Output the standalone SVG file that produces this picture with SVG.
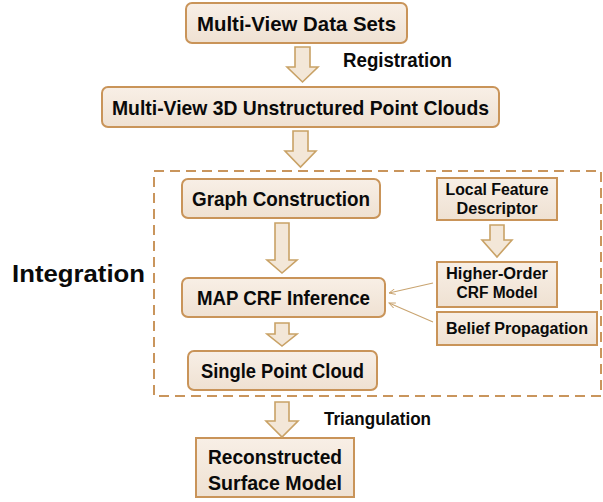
<svg xmlns="http://www.w3.org/2000/svg" width="603" height="502" viewBox="0 0 603 502">
<defs>
<linearGradient id="bg" x1="0" y1="0" x2="0" y2="1">
<stop offset="0" stop-color="#f8efe6"/>
<stop offset="1" stop-color="#efe1d2"/>
</linearGradient>
<marker id="ah" viewBox="0 0 10 10" refX="9" refY="5" markerWidth="7" markerHeight="7" orient="auto" markerUnits="userSpaceOnUse">
<path d="M0,1 L9,5 L0,9" fill="none" stroke="#c9a470" stroke-width="1.3"/>
</marker>
</defs>
<style>
.box{fill:url(#bg);stroke:#c99459;stroke-width:2}
.blk{fill:#f3e7d8;stroke:#c9a266;stroke-width:1.6;stroke-linejoin:miter}
.t{font-family:"Liberation Sans",Arial,sans-serif;font-weight:bold;fill:#0a0a0a;text-anchor:middle}
.lbl{font-family:"Liberation Sans",Arial,sans-serif;font-weight:bold;fill:#0a0a0a}
.thin{stroke:#c9a470;stroke-width:1.1;fill:none}
</style>
<rect width="603" height="502" fill="#ffffff"/>

<g id="integration-region">
<rect x="154" y="171" width="447" height="225" fill="none" stroke="#c9955c" stroke-width="2" stroke-dasharray="10,6"/>
<text class="lbl" x="12" y="282" font-size="24" textLength="133" lengthAdjust="spacingAndGlyphs">Integration</text>
</g>

<g id="n-data-sets">
<rect class="box" x="186" y="3" width="221" height="40" rx="6"/>
<text class="t" x="296.5" y="30.5" font-size="20.5" textLength="199" lengthAdjust="spacingAndGlyphs">Multi-View Data Sets</text>
</g>
<g id="n-point-clouds">
<rect class="box" x="102" y="87" width="397" height="40" rx="6"/>
<text class="t" x="300.5" y="114.5" font-size="20.5" textLength="377" lengthAdjust="spacingAndGlyphs">Multi-View 3D Unstructured Point Clouds</text>
</g>
<g id="n-graph">
<rect class="box" x="182" y="179" width="198" height="39" rx="6"/>
<text class="t" x="281" y="206" font-size="20.5" textLength="178" lengthAdjust="spacingAndGlyphs">Graph Construction</text>
</g>
<g id="n-map">
<rect class="box" x="182" y="278" width="203" height="39" rx="6"/>
<text class="t" x="283.5" y="305" font-size="20.5" textLength="173" lengthAdjust="spacingAndGlyphs">MAP CRF Inference</text>
</g>
<g id="n-single">
<rect class="box" x="188" y="351" width="189" height="39" rx="6"/>
<text class="t" x="282.5" y="378" font-size="20.5" textLength="163" lengthAdjust="spacingAndGlyphs">Single Point Cloud</text>
</g>
<g id="n-lfd">
<rect class="box" x="437" y="178" width="120" height="42"/>
<text class="t" x="497" y="195" font-size="16" textLength="103" lengthAdjust="spacingAndGlyphs">Local Feature</text>
<text class="t" x="497" y="214" font-size="16" textLength="81" lengthAdjust="spacingAndGlyphs">Descriptor</text>
</g>
<g id="n-hocrf">
<rect class="box" x="437" y="262" width="120" height="45"/>
<text class="t" x="497" y="279" font-size="16" textLength="102" lengthAdjust="spacingAndGlyphs">Higher-Order</text>
<text class="t" x="497" y="298" font-size="16" textLength="81" lengthAdjust="spacingAndGlyphs">CRF Model</text>
</g>
<g id="n-bp">
<rect class="box" x="437" y="312" width="160" height="33"/>
<text class="t" x="517" y="334" font-size="16" textLength="142" lengthAdjust="spacingAndGlyphs">Belief Propagation</text>
</g>
<g id="n-surface">
<rect class="box" x="196" y="438" width="158" height="59"/>
<text class="t" x="275" y="464" font-size="20" textLength="134" lengthAdjust="spacingAndGlyphs">Reconstructed</text>
<text class="t" x="275" y="490" font-size="20" textLength="134" lengthAdjust="spacingAndGlyphs">Surface Model</text>
</g>

<g id="connectors">
<path class="blk" d="M295,47 H310 V67 H318 L302.5,82 L287,67 H295 Z"/>
<path class="blk" d="M293,131 H308 V151 H316 L300.5,167 L285,151 H293 Z"/>
<path class="blk" d="M275,223 H289 V260 H297 L282,273 L267,260 H275 Z"/>
<path class="blk" d="M275,323 H289 V334 H297 L282,346 L267,334 H275 Z"/>
<path class="blk" d="M490,225 H504 V240 H512 L497,257 L482,240 H490 Z"/>
<path class="blk" d="M275,402 H289 V421 H298 L282,437 L266,421 H275 Z"/>
<line class="thin" x1="433" y1="283" x2="389" y2="293" marker-end="url(#ah)"/>
<line class="thin" x1="433" y1="322" x2="389" y2="303" marker-end="url(#ah)"/>
<text class="lbl" x="343" y="67" font-size="20" textLength="109" lengthAdjust="spacingAndGlyphs">Registration</text>
<text class="lbl" x="324" y="425" font-size="19" textLength="107" lengthAdjust="spacingAndGlyphs">Triangulation</text>
</g>
</svg>
